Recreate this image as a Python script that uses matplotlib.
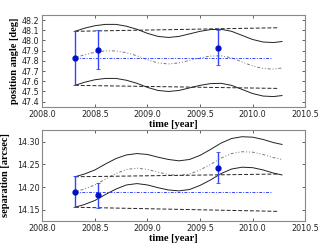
import matplotlib
matplotlib.use("Agg")
import matplotlib.pyplot as plt

# epochs of the measurements
t_obs = [2008.31, 2008.53, 2009.67]

# position angle [deg]
pa_obs = [47.83, 47.91, 47.93]
pa_err = [0.265, 0.19, 0.17]

# separation [arcsec]
sep_obs = [14.19, 14.182, 14.243]
sep_err = [0.034, 0.027, 0.034]

# model curve epochs
t_mod = [2008.31, 2008.4, 2008.5, 2008.6, 2008.7, 2008.8, 2008.9, 2009.0, 2009.1,
         2009.2, 2009.3, 2009.4, 2009.5, 2009.6, 2009.7, 2009.8, 2009.9, 2010.0,
         2010.1, 2010.2, 2010.28]

pa_upper = [48.09, 48.12, 48.145, 48.158, 48.158, 48.14, 48.11, 48.07, 48.04, 48.03,
            48.04, 48.065, 48.09, 48.107, 48.11, 48.09, 48.05, 48.01, 47.985, 47.98, 47.99]
pa_mid = [47.83, 47.86, 47.885, 47.898, 47.898, 47.88, 47.85, 47.81, 47.78, 47.77,
          47.78, 47.805, 47.83, 47.847, 47.85, 47.83, 47.79, 47.75, 47.725, 47.72, 47.73]
pa_lower = [47.56, 47.59, 47.615, 47.628, 47.628, 47.61, 47.58, 47.54, 47.51, 47.50,
            47.51, 47.535, 47.56, 47.577, 47.58, 47.56, 47.52, 47.48, 47.455, 47.45, 47.46]

sep_upper = [14.223, 14.229, 14.238, 14.251, 14.263, 14.271, 14.274, 14.272, 14.266, 14.261,
             14.258, 14.261, 14.270, 14.283, 14.297, 14.307, 14.311, 14.310, 14.305, 14.298, 14.294]
sep_mid = [14.190, 14.196, 14.205, 14.218, 14.230, 14.239, 14.242, 14.239, 14.233, 14.228,
           14.226, 14.229, 14.238, 14.250, 14.264, 14.274, 14.278, 14.277, 14.272, 14.265, 14.261]
sep_lower = [14.156, 14.162, 14.171, 14.184, 14.196, 14.205, 14.208, 14.205, 14.199, 14.194,
             14.192, 14.195, 14.204, 14.216, 14.230, 14.240, 14.244, 14.243, 14.238, 14.231, 14.227]

# static-background (no motion) lines
t_static = [2008.31, 2010.24]
pa_static_hi = [48.09, 48.125]
pa_static_lo = [47.56, 47.53]
sep_static_hi = [14.223, 14.229]
sep_static_lo = [14.156, 14.147]

t_const = [2008.31, 2010.18]

label_font = dict(family="Liberation Serif", weight="bold", size=7.5)

fig = plt.figure(figsize=(3.26, 2.46), dpi=100)
ax1 = fig.add_axes([0.130, 0.566, 0.806, 0.373])
ax2 = fig.add_axes([0.130, 0.102, 0.806, 0.370])


def draw(ax, up, mid, lo, hi_s, lo_s, obs, err, c):
    ax.plot(t_mod, up, color="#222222", lw=0.7)
    ax.plot(t_mod, lo, color="#222222", lw=0.7)
    ax.plot(t_mod, mid, color="#777777", lw=0.7, dashes=(1, 2, 1, 2, 3, 2))
    ax.plot(t_static, hi_s, color="#222222", lw=0.7, dashes=(4, 2))
    ax.plot(t_static, lo_s, color="#222222", lw=0.7, dashes=(4, 2))
    ax.plot(t_const, [c, c], color="#3344ff", lw=0.7, dashes=(3, 1.5, 1, 1.5))
    ax.errorbar(t_obs, obs, yerr=err, fmt="o", color="#0010c8", ms=3.5,
                ecolor="#3344ff", elinewidth=1.0, capsize=1.5, capthick=0.6)
    ax.set_xlim(2008.0, 2010.5)
    ax.set_xticks([2008.0, 2008.5, 2009.0, 2009.5, 2010.0, 2010.5])
    ax.tick_params(direction="in", labelsize=5.8, length=2.5, width=0.5,
                   top=True, right=True, pad=2, colors="#222222")
    for s in ax.spines.values():
        s.set_color("#888888")
        s.set_linewidth(0.8)
    ax.set_xlabel("time [year]", fontdict=label_font, labelpad=1)


draw(ax1, pa_upper, pa_mid, pa_lower, pa_static_hi, pa_static_lo, pa_obs, pa_err, 47.83)
ax1.set_ylim(47.35, 48.25)
ax1.set_yticks([47.4, 47.5, 47.6, 47.7, 47.8, 47.9, 48.0, 48.1, 48.2])
ax1.set_ylabel("position angle [deg]", fontdict=label_font, labelpad=2)

draw(ax2, sep_upper, sep_mid, sep_lower, sep_static_hi, sep_static_lo, sep_obs, sep_err, 14.19)
ax2.set_ylim(14.126, 14.326)
ax2.set_yticks([14.15, 14.20, 14.25, 14.30])
ax2.set_yticklabels(["14.15", "14.20", "14.25", "14.30"])
ax2.set_ylabel("separation [arcsec]", fontdict=label_font, labelpad=5)

fig.savefig("out.png", dpi=100)
